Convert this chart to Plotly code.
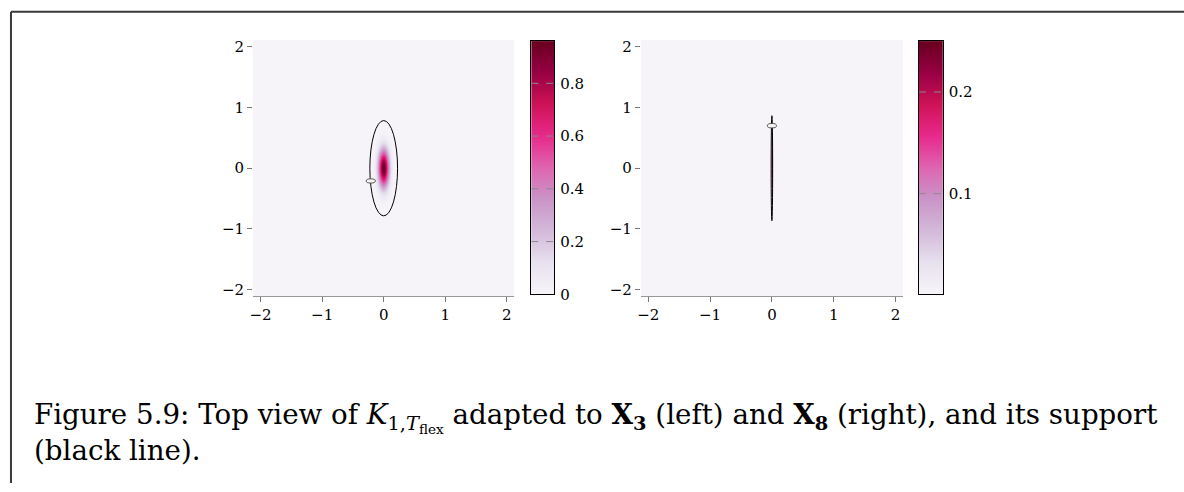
import numpy as np
import plotly.graph_objects as go

# ---------------- data ----------------
axis_ticks = [-2, -1, 0, 1, 2]
axis_ticklabels = ["\u22122", "\u22121", "0", "1", "2"]
x_range = [-2.12, 2.12]
y_range = [-2.11, 2.11]

# left panel (adapted to X3)
left_peak = 0.96
left_sigma = [0.06, 0.21]            # spread of kernel (x, y)
left_support_center = [0.0, 0.0]
left_support_semi = [0.225, 0.785]   # semi-axes of support ellipse
left_point_center = [-0.21, -0.21]
left_point_semi = [0.075, 0.035]
left_cbar_range = [0.0, 0.96]
left_cbar_ticks = [0.0, 0.2, 0.4, 0.6, 0.8]
left_cbar_labels = ["0", "0.2", "0.4", "0.6", "0.8"]

# right panel (adapted to X8)
right_peak = 0.25
right_sigma = [0.006, 0.35]
right_support_center = [0.0, 0.0]
right_support_semi = [0.012, 0.865]
right_point_center = [0.0, 0.70]
right_point_semi = [0.075, 0.037]
right_cbar_range = [0.001, 0.25]
right_cbar_ticks = [0.1, 0.2]
right_cbar_labels = ["0.1", "0.2"]

caption_line1 = ("Figure 5.9: Top view of <i>K</i><sub>1,<i>T</i><sub>flex</sub></sub> adapted to "
                 "<b>X<sub>3</sub></b> (left) and <b>X<sub>8</sub></b> (right), and its support")
caption_line2 = "(black line)."

# ---------------- helpers ----------------
W, H = 1184, 492
SERIF = "DejaVu Serif"
BG = "rgb(247,244,249)"


def px_x(p):
    return p / W


def px_y(p):
    return 1 - p / H


def kernel_grid(peak, sigma, center, semi, nx, ny):
    xs = np.linspace(center[0] - semi[0], center[0] + semi[0], nx)
    ys = np.linspace(center[1] - semi[1], center[1] + semi[1], ny)
    X, Y = np.meshgrid(xs, ys)
    z = peak * np.exp(-0.5 * (((X - center[0]) / sigma[0]) ** 2 + ((Y - center[1]) / sigma[1]) ** 2))
    inside = ((X - center[0]) / semi[0]) ** 2 + ((Y - center[1]) / semi[1]) ** 2 <= 1.0
    z = np.where(inside, z, np.nan)
    return xs, ys, z


fig = go.Figure()

panels = [
    dict(peak=left_peak, sigma=left_sigma, sc=left_support_center, ss=left_support_semi,
         pc=left_point_center, ps=left_point_semi, cr=left_cbar_range, ct=left_cbar_ticks,
         cl=left_cbar_labels, nx=150, ny=360,
         dom_x=[px_x(250), px_x(512)], cb_x=[px_x(529), px_x(552)]),
    dict(peak=right_peak, sigma=right_sigma, sc=right_support_center, ss=right_support_semi,
         pc=right_point_center, ps=right_point_semi, cr=right_cbar_range, ct=right_cbar_ticks,
         cl=right_cbar_labels, nx=30, ny=360,
         dom_x=[px_x(639), px_x(902)], cb_x=[px_x(918), px_x(942)]),
]

dom_y = [px_y(301), px_y(39)]
cb_y = [px_y(299), px_y(40)]

shapes = []
layout_axes = {}
for i, p in enumerate(panels):
    main_idx = 2 * i + 1
    cb_idx = 2 * i + 2
    mx = f"x{main_idx}" if main_idx > 1 else "x"
    my = f"y{main_idx}" if main_idx > 1 else "y"
    cx = f"x{cb_idx}"
    cy = f"y{cb_idx}"

    xs, ys, z = kernel_grid(p["peak"], p["sigma"], p["sc"], p["ss"], p["nx"], p["ny"])
    fig.add_trace(go.Heatmap(x=xs, y=ys, z=z, colorscale="PuRd", zmin=p["cr"][0], zmax=p["cr"][1],
                             showscale=False, xaxis=mx, yaxis=my, hoverinfo="skip"))

    # colorbar as its own small axes
    edges = np.linspace(p["cr"][0], p["cr"][1], 257)
    mids = 0.5 * (edges[:-1] + edges[1:])
    fig.add_trace(go.Heatmap(x=[0, 1], y=edges, z=[[m] for m in mids], colorscale="PuRd",
                             zmin=p["cr"][0], zmax=p["cr"][1], showscale=False,
                             xaxis=cx, yaxis=cy, hoverinfo="skip"))
    for t in p["ct"]:
        if p["cr"][0] < t < p["cr"][1]:
            fig.add_trace(go.Scatter(x=[0, 1], y=[t, t], mode="lines",
                                     line=dict(color="#8a8a8a", width=1, dash="7px,8px"),
                                     xaxis=cx, yaxis=cy, showlegend=False, hoverinfo="skip"))

    axkey = lambda a: a.replace("x", "xaxis").replace("y", "yaxis")
    tickfont = dict(family=SERIF, size=15, color="black")
    layout_axes[axkey(mx)] = dict(domain=p["dom_x"], range=x_range, anchor=my,
                                  tickvals=axis_ticks, ticktext=axis_ticklabels,
                                  ticks="outside", ticklen=5, tickcolor="#777", tickwidth=1,
                                  showline=True, linecolor="#999", linewidth=1,
                                  showgrid=False, zeroline=False, tickfont=tickfont)
    layout_axes[axkey(my)] = dict(domain=dom_y, range=y_range, anchor=mx,
                                  tickvals=axis_ticks, ticktext=axis_ticklabels,
                                  ticks="outside", ticklen=5, tickcolor="#777", tickwidth=1,
                                  showline=False, showgrid=False, zeroline=False,
                                  tickfont=tickfont)
    layout_axes[axkey(cx)] = dict(domain=p["cb_x"], range=[0, 1], anchor=cy,
                                  showline=True, mirror=True, linecolor="black", linewidth=1,
                                  showticklabels=False, ticks="", showgrid=False, zeroline=False)
    layout_axes[axkey(cy)] = dict(domain=cb_y, range=p["cr"], anchor=cx, side="right",
                                  tickvals=p["ct"], ticktext=p["cl"], ticks="",
                                  showline=True, mirror=True, linecolor="black", linewidth=1,
                                  showgrid=False, zeroline=False, tickfont=tickfont,
                                  ticklabelstandoff=2)

    # support ellipse and data point
    sc, ss, pc, ps = p["sc"], p["ss"], p["pc"], p["ps"]
    shapes.append(dict(type="circle", xref=mx, yref=my,
                       x0=sc[0] - ss[0], x1=sc[0] + ss[0], y0=sc[1] - ss[1], y1=sc[1] + ss[1],
                       line=dict(color="black", width=1), layer="above"))
    shapes.append(dict(type="circle", xref=mx, yref=my,
                       x0=pc[0] - ps[0], x1=pc[0] + ps[0], y0=pc[1] - ps[1], y1=pc[1] + ps[1],
                       line=dict(color="#555", width=1), fillcolor="#f4f4f4", layer="above"))

# page frame
shapes.append(dict(type="line", xref="paper", yref="paper", x0=px_x(7), x1=1.0,
                   y0=px_y(10), y1=px_y(10), line=dict(color="#3a3a3a", width=2)))
shapes.append(dict(type="line", xref="paper", yref="paper", x0=px_x(7), x1=px_x(7),
                   y0=0.0, y1=px_y(10), line=dict(color="#3a3a3a", width=2)))

cap_font = dict(family=SERIF, size=27.7, color="black")
fig.update_layout(
    width=W, height=H, margin=dict(l=0, r=0, t=0, b=0),
    paper_bgcolor="white", plot_bgcolor=BG, showlegend=False,
    shapes=shapes,
    annotations=[
        dict(xref="paper", yref="paper", x=px_x(28), y=px_y(403),
             xanchor="left", yanchor="top", align="left", showarrow=False,
             text=caption_line1, font=cap_font),
        dict(xref="paper", yref="paper", x=px_x(28), y=px_y(440),
             xanchor="left", yanchor="top", align="left", showarrow=False,
             text=caption_line2, font=cap_font),
    ],
    **layout_axes,
)

fig.write_html("out.html")
